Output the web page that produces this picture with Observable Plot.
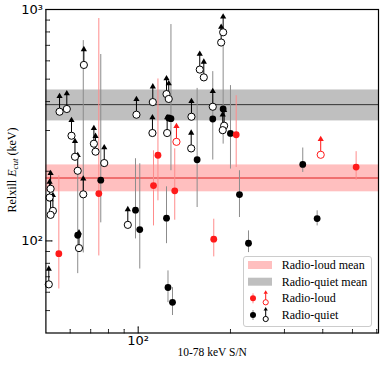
<!DOCTYPE html>
<html><head><meta charset="utf-8">
<script src="https://cdn.jsdelivr.net/npm/d3@7"></script>
<script src="https://cdn.jsdelivr.net/npm/@observablehq/plot@0.6"></script>
<style>
body{margin:0;background:#fff;}
#wrap{position:relative;width:382px;height:366px;overflow:hidden;}
#ylab{position:absolute;left:12px;top:170px;transform:translate(-50%,-50%) rotate(-90deg);white-space:nowrap;font:12px "Liberation Serif",serif;color:#000;}
#legend{position:absolute;left:243px;top:256px;}
</style></head><body><div id="wrap"></div>
<script>
// ---- data (S/N, E_cut in keV) ----
// radio-quiet lower limits (open circles with arrows)
const quietLimSN = [51.1,51.8,51.4,52.7,51.8,55.4,58.5,66.5,60.6,62.2,63.5,66.2,64.1,71.7,72.6,77.5,92.5,98.7,111.6,111.3,123.7,125.8,124.3,149.2,148.9,158.8,163.7,175.1,186.5,189.3,190.7,188.7];
const quietLimE  = [64.9,168,154,134.9,129.6,361.7,371.6,576,284.8,231,201,159,93.1,263,243,217,117.3,351,398,292.6,431,410.6,292.6,344,251,550,509,380,720,797,314.6,301];
const quietLimLo = [null,null,null,null,null,null,null,null,null,null,null,88.7,null,null,null,null,null,null,null,null,null,null,null,null,null,null,null,null,null,null,null,null];
const quietLimHi = [null,null,null,null,null,null,null,null,null,null,null,734,null,null,null,null,null,null,null,null,null,null,null,null,null,null,null,null,null,null,null,null];
// radio-loud lower limits
const loudLimSN = [133.3,393.9];
const loudLimE  = [268,235.6];
// radio-quiet detections
const quietSN = [63.5,75.5,98,101.2,123.7,125.1,129.4,127.9,125.8,155.7,175.1,189.3,200,214,229,344.2,383.5];
const quietE  = [105.8,183,135.8,111.9,125.4,62.9,54.3,337.4,339.8,224.2,336.4,371.6,291.4,158.6,97.7,214,124.9];
const quietLo = [72.2,119.7,102,75.6,97.3,54.1,47.6,201,null,139.4,223.6,262,204.4,126.2,89,197.6,116.1];
const quietHi = [201,639,226.5,215.4,171.3,74.2,62.8,861,null,456,539,712,469,201,110.5,252,134.9];
// radio-loud detections
const loudSN = [55.1,74.4,116,112.2,131.6,208.8,176.4,514];
const loudE  = [88.1,160.2,234.5,173.5,164.6,287.6,101.7,208.4];
const loudLo = [62,86.1,149,116.1,122.9,207.7,85.3,183];
const loudHi = [191.1,914,501,245,250,424,124.1,243];
// means and 1-sigma bands
const loudMean = 187, loudBand = [163, 213];
const quietMean = 388, quietBand = [330, 449];
// axes
const xDomain = [50, 608], yDomain = [40, 1000];
const xMajor = [100], xMajorLabels = ["10²"];
const xMinor = [60,70,80,90,200,300,400,500,600];
const yMajor = [100,1000], yMajorLabels = ["10²","10³"];
const yMinor = [50,60,70,80,90,200,300,400,500,600,700,800,900];
const xLabel = "10-78 keV S/N";
const legendLabels = ["Radio-loud mean","Radio-quiet mean","Radio-loud","Radio-quiet"];

// ---- build tables ----
const mk = (sn, e, lo, hi) => sn.map((s,i)=>({sn:s, e:e[i], lo:lo?lo[i]:null, hi:hi?hi[i]:null}));
const qLim = mk(quietLimSN, quietLimE, quietLimLo, quietLimHi);
const lLim = mk(loudLimSN, loudLimE);
const qDet = mk(quietSN, quietE, quietLo, quietHi);
const lDet = mk(loudSN, loudE, loudLo, loudHi);

const RED = "#ff1a1a", REDBAR = "#ff8c8c", GRAYBAR = "#8c8c8c";
const arrowLen = 15;

const plot = Plot.plot({
  width: 382, height: 366,
  marginLeft: 45.4, marginRight: 4, marginTop: 9, marginBottom: 33.5,
  x: {type: "log", domain: xDomain},
  y: {type: "log", domain: yDomain},
  style: {fontFamily: "DejaVu Sans", fontSize: "13px", background: "white", color: "black"},
  marks: [
    Plot.rect([loudBand], {y1: d=>d[0], y2: d=>d[1], fill: "#ffbfbf"}),
    Plot.rect([quietBand], {y1: d=>d[0], y2: d=>d[1], fill: "#bfbfbf"}),
    Plot.ruleY([loudMean], {stroke: "#e02020", strokeWidth: 1}),
    Plot.ruleY([quietMean], {stroke: "#333", strokeWidth: 1}),
    // error bars
    Plot.ruleX(qLim.filter(d=>d.lo!=null), {x: "sn", y1: "lo", y2: "hi", stroke: GRAYBAR, strokeWidth: 1}),
    Plot.ruleX(qDet.filter(d=>d.lo!=null), {x: "sn", y1: "lo", y2: "hi", stroke: GRAYBAR, strokeWidth: 1}),
    Plot.ruleX(lDet, {x: "sn", y1: "lo", y2: "hi", stroke: REDBAR, strokeWidth: 1}),
    // lower-limit arrows
    Plot.vector(qLim, {x: "sn", y: "e", anchor: "start", length: arrowLen, rotate: 0, r: 0, stroke: "black", strokeWidth: 1}),
    Plot.dot(qLim, {x: "sn", y: "e", dy: -arrowLen - 0.5, symbol: "triangle", r: 2.3, fill: "black"}),
    Plot.vector(lLim, {x: "sn", y: "e", anchor: "start", length: arrowLen, rotate: 0, r: 0, stroke: RED, strokeWidth: 1}),
    Plot.dot(lLim, {x: "sn", y: "e", dy: -arrowLen - 0.5, symbol: "triangle", r: 2.3, fill: RED}),
    // points
    Plot.dot(qLim, {x: "sn", y: "e", r: 3.6, fill: "white", stroke: "black", strokeWidth: 1}),
    Plot.dot(lLim, {x: "sn", y: "e", r: 3.6, fill: "white", stroke: RED, strokeWidth: 1}),
    Plot.dot(qDet, {x: "sn", y: "e", r: 3.4, fill: "black"}),
    Plot.dot(lDet, {x: "sn", y: "e", r: 3.4, fill: RED}),
    // inward ticks
    Plot.vector(xMinor, {x: d=>d, frameAnchor: "bottom", anchor: "start", length: 3.5, rotate: 0, r: 0, stroke: "black", strokeWidth: 0.8}),
    Plot.vector(xMajor, {x: d=>d, frameAnchor: "bottom", anchor: "start", length: 6, rotate: 0, r: 0, stroke: "black", strokeWidth: 1}),
    Plot.vector(yMinor, {y: d=>d, frameAnchor: "left", anchor: "start", length: 3.5, rotate: 90, r: 0, stroke: "black", strokeWidth: 0.8}),
    Plot.vector(yMajor, {y: d=>d, frameAnchor: "left", anchor: "start", length: 6, rotate: 90, r: 0, stroke: "black", strokeWidth: 1}),
    Plot.frame({stroke: "black", strokeWidth: 1.2}),
    Plot.axisX(xMajor, {tickSize: 0, tickPadding: 3, tickFormat: d=>xMajorLabels[xMajor.indexOf(d)], label: null, fontSize: 13}),
    Plot.axisY(yMajor, {tickSize: 0, tickPadding: 3, tickFormat: d=>yMajorLabels[yMajor.indexOf(d)], label: null, fontSize: 13}),
    Plot.text([xLabel], {frameAnchor: "bottom", dy: 22.5, text: d=>d, fontFamily: "Liberation Serif", fontSize: 11.5})
  ]
});
const wrap = document.getElementById("wrap");
wrap.appendChild(plot);

const ylab = document.createElement("div");
ylab.id = "ylab";
ylab.innerHTML = 'Relxill <i>E</i><sub style="font-size:9px;vertical-align:-2px"><i>cut</i></sub> (keV)';
wrap.appendChild(ylab);

// legend
const L = document.createElement("div");
L.id = "legend";
const rowY = [9, 25.7, 42.3, 59];
let s = `<svg width="130" height="72" xmlns="http://www.w3.org/2000/svg" style="font-family:'Liberation Serif',serif;font-size:12px">
<rect x="0.5" y="0.5" width="128" height="70" rx="2.5" fill="white" stroke="#cccccc"/>
<rect x="5" y="${rowY[0]-4}" width="24" height="8" fill="#ffbfbf"/>
<rect x="5" y="${rowY[1]-4}" width="24" height="8" fill="#bfbfbf"/>`;
[[RED, REDBAR, rowY[2]], ["black", GRAYBAR, rowY[3]]].forEach(([c, bc, y]) => {
  s += `<line x1="10" x2="10" y1="${y-5}" y2="${y+5}" stroke="${bc}"/>
<circle cx="10" cy="${y}" r="3" fill="${c}"/>
<line x1="22.7" x2="22.7" y1="${y+4}" y2="${y-5}" stroke="${c}"/>
<path d="M22.7,${y-8} L20.6,${y-4.5} L24.8,${y-4.5} Z" fill="${c}"/>
<circle cx="22.7" cy="${y+4}" r="2.6" fill="white" stroke="${c}"/>`;
});
legendLabels.forEach((t,i)=>{ s += `<text x="38.7" y="${rowY[i]}" dominant-baseline="central">${t}</text>`; });
s += `</svg>`;
L.innerHTML = s;
wrap.appendChild(L);
</script></body></html>
